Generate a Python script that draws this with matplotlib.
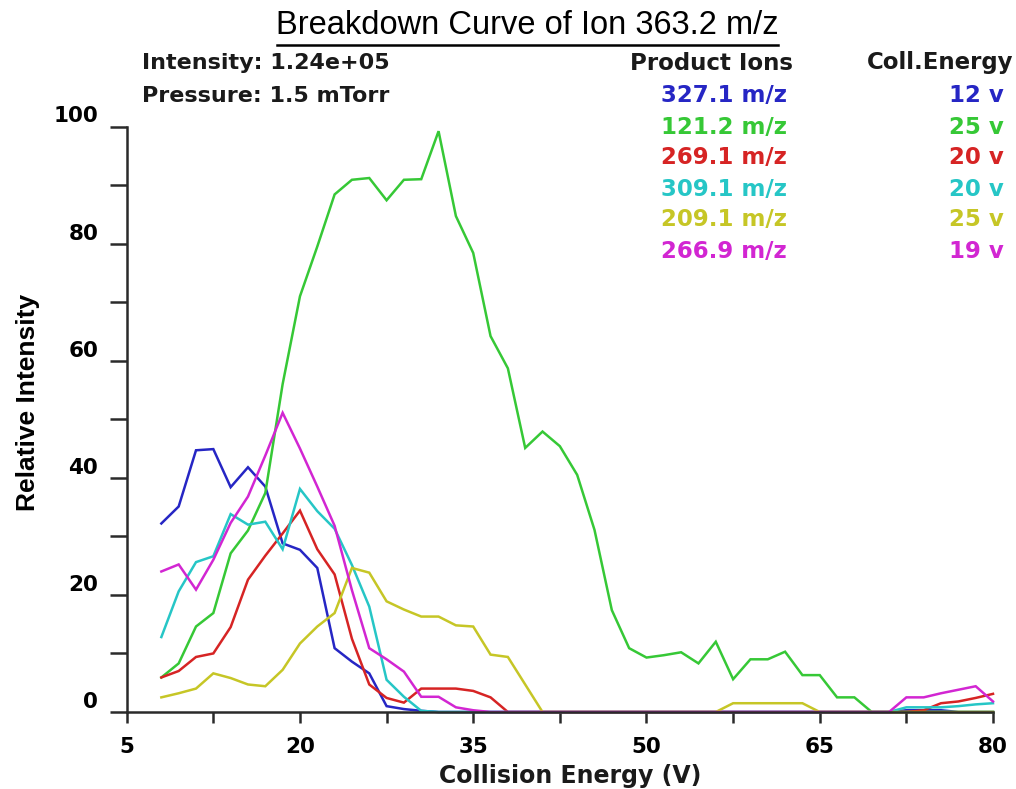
import matplotlib
matplotlib.use('Agg')
import matplotlib.pyplot as plt
from matplotlib.lines import Line2D

W, H = 1016, 789

energy = [8.0, 9.5, 11.0, 12.5, 14.0, 15.5, 17.0, 18.5, 20.0, 21.5, 23.0, 24.5,
          26.0, 27.5, 29.0, 30.5, 32.0, 33.5, 35.0, 36.5, 38.0, 39.5, 41.0, 42.5,
          44.0, 45.5, 47.0, 48.5, 50.0, 51.5, 53.0, 54.5, 56.0, 57.5, 59.0, 60.5,
          62.0, 63.5, 65.0, 66.5, 68.0, 69.5, 71.0, 72.5, 74.0, 75.5, 77.0, 78.5, 80.0]

ion_327 = [32.2, 35.1, 44.7, 44.9, 38.4, 41.8, 38.5, 28.8, 27.7, 24.6, 10.9, 8.6,
           6.6, 1.0, 0.5, 0.2, 0, 0, 0, 0, 0, 0, 0, 0,
           0, 0, 0, 0, 0, 0, 0, 0, 0, 0, 0, 0,
           0, 0, 0, 0, 0, 0, 0, 0.3, 0.3, 0.3, 0, 0, 0]
ion_121 = [5.9, 8.3, 14.6, 16.9, 27.1, 31.0, 37.4, 56.0, 71.0, 79.5, 88.4, 90.9,
           91.2, 87.4, 90.9, 91.0, 99.2, 84.7, 78.4, 64.2, 58.7, 45.1, 47.9, 45.4,
           40.5, 31.1, 17.4, 10.9, 9.3, 9.7, 10.2, 8.3, 12.0, 5.6, 9.0, 9.0,
           10.3, 6.3, 6.3, 2.5, 2.5, 0, 0, 0, 0, 0, 0, 0, 0]
ion_269 = [5.9, 7.0, 9.4, 10.0, 14.5, 22.6, 26.7, 30.5, 34.4, 27.8, 23.5, 12.5,
           4.7, 2.4, 1.6, 4.0, 4.0, 4.0, 3.6, 2.5, 0, 0, 0, 0,
           0, 0, 0, 0, 0, 0, 0, 0, 0, 0, 0, 0,
           0, 0, 0, 0, 0, 0, 0, 0, 0.3, 1.5, 1.8, 2.4, 3.1]
ion_309 = [12.8, 20.6, 25.6, 26.6, 33.8, 32.0, 32.5, 27.8, 38.1, 34.3, 31.3, 25.1,
           18.0, 5.5, 2.6, 0.2, 0, 0, 0, 0, 0, 0, 0, 0,
           0, 0, 0, 0, 0, 0, 0, 0, 0, 0, 0, 0,
           0, 0, 0, 0, 0, 0, 0, 0.8, 0.8, 0.8, 1.0, 1.3, 1.5]
ion_209 = [2.5, 3.2, 4.0, 6.6, 5.8, 4.7, 4.4, 7.2, 11.7, 14.6, 16.9, 24.6,
           23.8, 18.9, 17.5, 16.3, 16.3, 14.8, 14.6, 9.8, 9.4, 4.7, 0, 0,
           0, 0, 0, 0, 0, 0, 0, 0, 0, 1.5, 1.5, 1.5,
           1.5, 1.5, 0, 0, 0, 0, 0, 0, 0, 0, 0, 0, 0]
ion_266 = [24.0, 25.2, 20.9, 26.0, 32.3, 36.8, 43.8, 51.1, 45.0, 38.5, 31.8, 20.8,
           10.9, 9.0, 6.9, 2.6, 2.6, 0.8, 0.3, 0, 0, 0, 0, 0,
           0, 0, 0, 0, 0, 0, 0, 0, 0, 0, 0, 0,
           0, 0, 0, 0, 0, 0, 0, 2.5, 2.5, 3.2, 3.8, 4.4, 1.8]

ion_labels = ["327.1 m/z", "121.2 m/z", "269.1 m/z", "309.1 m/z", "209.1 m/z", "266.9 m/z"]
coll_energy = ["12 v", "25 v", "20 v", "20 v", "25 v", "19 v"]
colors = ["#2626c4", "#36c836", "#d62424", "#26c6c6", "#c6c626", "#d226d2"]
series = [ion_327, ion_121, ion_269, ion_309, ion_209, ion_266]

x_ticks = [5, 20, 35, 50, 65, 80]
x_minor = [12.5, 27.5, 42.5, 57.5, 72.5]
y_ticks = [0, 20, 40, 60, 80, 100]
y_minor = [10, 30, 50, 70, 90]

BOLD = ['DejaVu Sans']
fig = plt.figure(figsize=(W / 100, H / 100), dpi=100)
fig.patch.set_facecolor('white')

def fx(x):
    return x / W

def fy(y):
    return 1 - y / H

ax = fig.add_axes([fx(126.7), fy(712), fx(993) - fx(126.7), fy(126.5) - fy(712)])
for s, c in zip(series, colors):
    ax.plot(energy, s, color=c, lw=1.8, solid_joinstyle='miter', clip_on=False)

ax.set_xlim(5, 80)
ax.set_ylim(0, 100)
for side in ['top', 'right']:
    ax.spines[side].set_visible(False)
for side in ['left', 'bottom']:
    ax.spines[side].set_color('#2a2a2a')
    ax.spines[side].set_linewidth(1.8)

ax.set_xticks(x_ticks)
ax.set_xticks(x_minor, minor=True)
ax.set_yticks(y_ticks)
ax.set_yticks(y_minor, minor=True)
ax.set_xticklabels([str(v) for v in x_ticks], fontsize=15.5, fontweight='bold', family=BOLD)
ax.set_yticklabels([str(v) for v in y_ticks], fontsize=15.5, fontweight='bold', family=BOLD)
ax.tick_params(axis='x', which='both', direction='out', length=8, width=1.8,
               color='#2a2a2a', pad=10)
ax.tick_params(axis='y', which='both', direction='out', length=12.5, width=1.8,
               color='#2a2a2a', pad=8)
for t in ax.get_yticklabels():
    t.set_verticalalignment('bottom')

fig.text(fx(570), fy(776), "Collision Energy (V)", fontsize=17, fontweight='bold',
         family=BOLD, ha='center', va='center', color='#1a1a1a')

fig.text(fx(28), fy(402), "Relative Intensity", rotation=90, fontsize=19,
         fontweight='bold', family=['Liberation Sans Narrow', 'Liberation Sans'],
         ha='center', va='center')

# title with underline
fig.text(fx(527), fy(26), "Breakdown Curve of Ion 363.2 m/z", fontsize=23.5,
         family=['Liberation Sans'], ha='center', va='center')
fig.add_artist(Line2D([fx(277), fx(778)], [fy(45), fy(45)], color='black', lw=1.8))

fig.text(fx(142), fy(63), "Intensity: 1.24e+05", fontsize=16, fontweight='bold',
         family=BOLD, ha='left', va='center', color='#1a1a1a')
fig.text(fx(142), fy(96), "Pressure: 1.5 mTorr", fontsize=16, fontweight='bold',
         family=BOLD, ha='left', va='center', color='#1a1a1a')
fig.text(fx(630), fy(63), "Product Ions", fontsize=16.5, fontweight='bold',
         family=BOLD, ha='left', va='center', color='#1a1a1a')
fig.text(fx(1013), fy(63), "Coll.Energy", fontsize=16.5, fontweight='bold',
         family=BOLD, ha='right', va='center', color='#1a1a1a')

row_y = [96, 127, 158, 189, 220, 251]
for lab, ce, c, yy in zip(ion_labels, coll_energy, colors, row_y):
    fig.text(fx(787), fy(yy), lab, fontsize=16.5, fontweight='bold', family=BOLD,
             ha='right', va='center', color=c)
    fig.text(fx(1004), fy(yy), ce, fontsize=16.5, fontweight='bold', family=BOLD,
             ha='right', va='center', color=c)

fig.savefig('out.png', dpi=100, facecolor='white')
